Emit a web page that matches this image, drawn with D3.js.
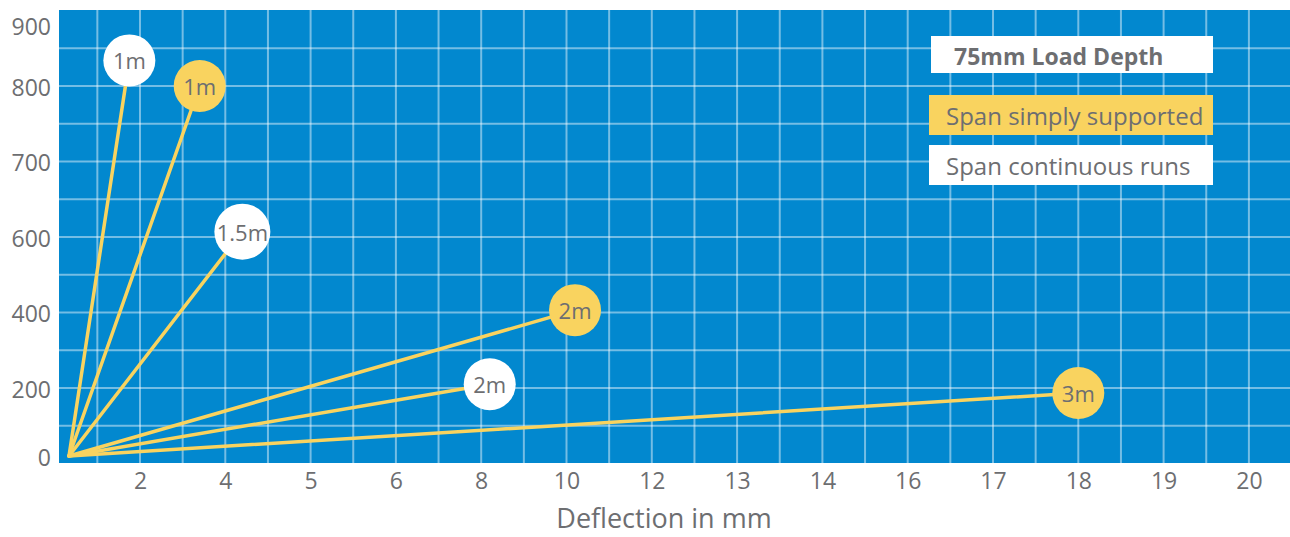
<!DOCTYPE html>
<html>
<head>
<meta charset="utf-8">
<script src="https://cdn.jsdelivr.net/npm/d3@7"></script>
<style>
  html, body { margin: 0; padding: 0; background: #ffffff; }
  svg { display: block; }
  text { font-family: "Open Sans", "Noto Sans", sans-serif; fill: #6d6e71; }
</style>
</head>
<body>
<svg id="chart" width="1290" height="537"></svg>
<script>
// ---------- data ----------
const xTicks = [2, 4, 5, 6, 8, 10, 12, 13, 14, 16, 17, 18, 19, 20];
const yTicks = [0, 200, 400, 600, 700, 800, 900];

const simpleSpans = ["1m", "2m", "3m"];
const simpleDeflection = [3.4, 10.2, 18];
const simpleLoad = [800, 405, 185];

const continuousSpans = ["1m", "1.5m", "2m"];
const continuousDeflection = [1.7, 4.2, 8.2];
const continuousLoad = [842, 607, 210];

const legendTitle = "75mm Load Depth";
const legendLabels = ["Span simply supported", "Span continuous runs"];
const xTitle = "Deflection in mm";

// ---------- layout ----------
const plot = { left: 59, top: 10, right: 1290, bottom: 463 };
const originX = 69, firstTickX = 140, tickStepX = 85.3;
const colors = { bg: "#0288cf", grid: "rgba(255,255,255,0.45)", yellow: "#f9d35f", white: "#ffffff", text: "#6d6e71" };

const svg = d3.select("#chart");

// piecewise-linear scales (axis labels are placed at even spacing)
const x = d3.scaleLinear()
  .domain([0].concat(xTicks))
  .range([originX].concat(xTicks.map((d, i) => firstTickX + i * tickStepX)));
const y = d3.scaleLinear()
  .domain(yTicks)
  .range([456, 388, 312, 237, 161, 86, 25]);

// background
svg.append("rect")
  .attr("x", plot.left).attr("y", plot.top)
  .attr("width", plot.right - plot.left).attr("height", plot.bottom - plot.top)
  .attr("fill", colors.bg);

// grid
const gx = (x(xTicks[xTicks.length - 1]) - x(xTicks[0])) / ((xTicks.length - 1) * 2);
const vLines = d3.range(-1, 2 * (xTicks.length - 1) + 1).map(k => x(xTicks[0]) + k * gx);
const gy = (y(200) - y(800)) / 8;
const hLines = d3.range(-1, 10).map(k => y(200) - k * gy).filter(v => v > plot.top + 4 && v < plot.bottom - 4);

const grid = svg.append("g");
grid.selectAll("line.v").data(vLines).join("line")
  .attr("x1", d => d).attr("x2", d => d)
  .attr("y1", plot.top).attr("y2", plot.bottom)
  .attr("stroke", colors.grid).attr("stroke-width", 2);
grid.selectAll("line.h").data(hLines).join("line")
  .attr("x1", plot.left).attr("x2", plot.right)
  .attr("y1", d => d).attr("y2", d => d)
  .attr("stroke", colors.grid).attr("stroke-width", 2);

// axes
const xAxis = d3.axisBottom(x).tickValues(xTicks).tickSize(0).tickPadding(0);
svg.append("g").attr("transform", `translate(0,${plot.bottom})`).call(xAxis)
  .call(g => g.select(".domain").remove())
  .selectAll("text")
  .attr("dy", null).attr("y", 17).attr("dominant-baseline", "central")
  .style("font-size", "23px").attr("fill", colors.text);

const yAxis = d3.axisLeft(y).tickValues(yTicks).tickSize(0).tickPadding(0);
svg.append("g").attr("transform", `translate(51,0)`).call(yAxis)
  .call(g => g.select(".domain").remove())
  .selectAll("text")
  .attr("dy", null).attr("x", 0).attr("dominant-baseline", "central")
  .style("font-size", "23px").attr("fill", colors.text);

svg.append("text")
  .attr("x", 664).attr("y", 517)
  .attr("text-anchor", "middle").attr("dominant-baseline", "central")
  .style("font-size", "27px")
  .text(xTitle);

// series
const simple = simpleSpans.map((s, i) => ({ label: s, x: simpleDeflection[i], y: simpleLoad[i], type: "simple" }));
const continuous = continuousSpans.map((s, i) => ({ label: s, x: continuousDeflection[i], y: continuousLoad[i], type: "continuous" }));
const all = continuous.concat(simple);

svg.append("g").selectAll("line").data(all).join("line")
  .attr("x1", x(0)).attr("y1", y(0))
  .attr("x2", d => x(d.x)).attr("y2", d => y(d.y))
  .attr("stroke", colors.yellow).attr("stroke-width", 3.5)
  .attr("stroke-linecap", "round");

const nodes = svg.append("g").selectAll("g").data(all).join("g")
  .attr("transform", d => `translate(${x(d.x)},${y(d.y)})`);
nodes.append("circle")
  .attr("r", d => d.label === "1.5m" ? 28 : 26)
  .attr("fill", d => d.type === "simple" ? colors.yellow : colors.white);
nodes.append("text")
  .attr("text-anchor", "middle").attr("dominant-baseline", "central")
  .style("font-size", "22px")
  .text(d => d.label);

// legend
const lg = svg.append("g");
lg.append("rect").attr("x", 931).attr("y", 36).attr("width", 282).attr("height", 37).attr("fill", colors.white);
lg.append("text").attr("x", 954).attr("y", 56).attr("dominant-baseline", "central")
  .style("font-size", "23px").style("font-weight", "bold").text(legendTitle);

const items = lg.selectAll("g.item").data(legendLabels).join("g").attr("class", "item")
  .attr("transform", (d, i) => `translate(929,${95 + i * 50})`);
items.append("rect").attr("width", 284).attr("height", 40)
  .attr("fill", (d, i) => i === 0 ? colors.yellow : colors.white);
items.append("text").attr("x", 17).attr("y", 20).attr("dominant-baseline", "central")
  .style("font-size", "24px").text(d => d);
</script>
</body>
</html>
